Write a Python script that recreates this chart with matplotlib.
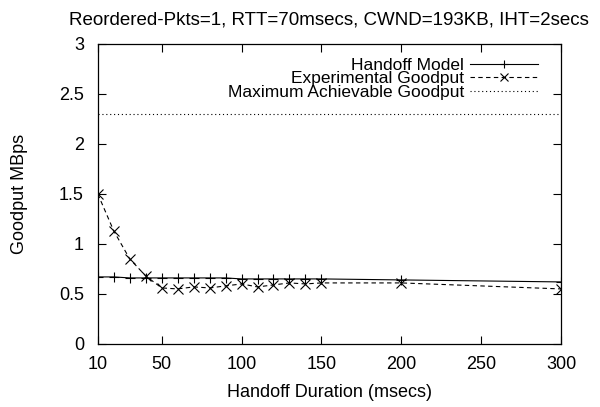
import matplotlib
matplotlib.use("Agg")
import matplotlib.pyplot as plt
from matplotlib.ticker import FuncFormatter

plt.rcParams['font.family'] = ['Liberation Sans', 'DejaVu Sans']
plt.rcParams['font.size'] = 13

# handoff duration (msecs)
durations = [10, 20, 30, 40, 50, 60, 70, 80, 90, 100, 110, 120, 130, 140, 150, 200, 300]
# goodput values (MBps)
model_goodput = [0.67, 0.67, 0.66, 0.66, 0.66, 0.66, 0.66, 0.66, 0.66, 0.65,
                 0.65, 0.65, 0.65, 0.65, 0.65, 0.64, 0.62]
exp_goodput = [1.50, 1.13, 0.85, 0.68, 0.56, 0.55, 0.57, 0.56, 0.58, 0.60,
               0.57, 0.59, 0.61, 0.60, 0.61, 0.61, 0.55]
max_goodput = 2.30

x_ticks = [10, 50, 100, 150, 200, 250, 300]
y_ticks = [0, 0.5, 1, 1.5, 2, 2.5, 3]

fig = plt.figure(figsize=(6, 4.07), dpi=100)
ax = fig.add_axes([0.163, 0.155, 0.772, 0.737])

ax.plot(durations, model_goodput, color='black', lw=0.8, marker='+',
        markersize=7.5, markeredgewidth=0.8, label='Handoff Model')
ax.plot(durations, exp_goodput, color='black', lw=0.8, dashes=(4, 3),
        marker='x', markersize=7, markeredgewidth=0.8,
        label='Experimental Goodput')
ax.plot([durations[0], durations[-1]], [max_goodput, max_goodput],
        color='black', lw=0.8, linestyle=(0, (1, 2.5)),
        label='Maximum Achievable Goodput')

ax.set_xlim(10, 300)
ax.set_ylim(0, 3)
ax.set_xticks(x_ticks)
ax.set_yticks(y_ticks)
ax.yaxis.set_major_formatter(FuncFormatter(lambda v, p: '%g' % v))
ax.tick_params(direction='in', length=6, width=0.8, top=True, right=True)
ax.tick_params(axis='x', pad=9)
ax.tick_params(axis='y', pad=10)
for s in ax.spines.values():
    s.set_linewidth(0.9)

ax.set_xlabel('Handoff Duration (msecs)')
ax.xaxis.set_label_coords(0.5, -0.135)
ax.set_ylabel('Goodput MBps')
ax.yaxis.set_label_coords(-0.15, 0.5)
ax.set_title('Reordered-Pkts=1, RTT=70msecs, CWND=193KB, IHT=2secs',
             y=1.065, pad=0, fontsize=13.5)

ax.legend(loc='upper right', bbox_to_anchor=(0.95, 0.955), frameon=False,
          markerfirst=False, numpoints=1, handlelength=3.9, markerscale=0.75,
          handletextpad=0.35, labelspacing=-0.08, borderpad=0,
          borderaxespad=0, fontsize=12.5)

fig.savefig('out.png', dpi=100)
